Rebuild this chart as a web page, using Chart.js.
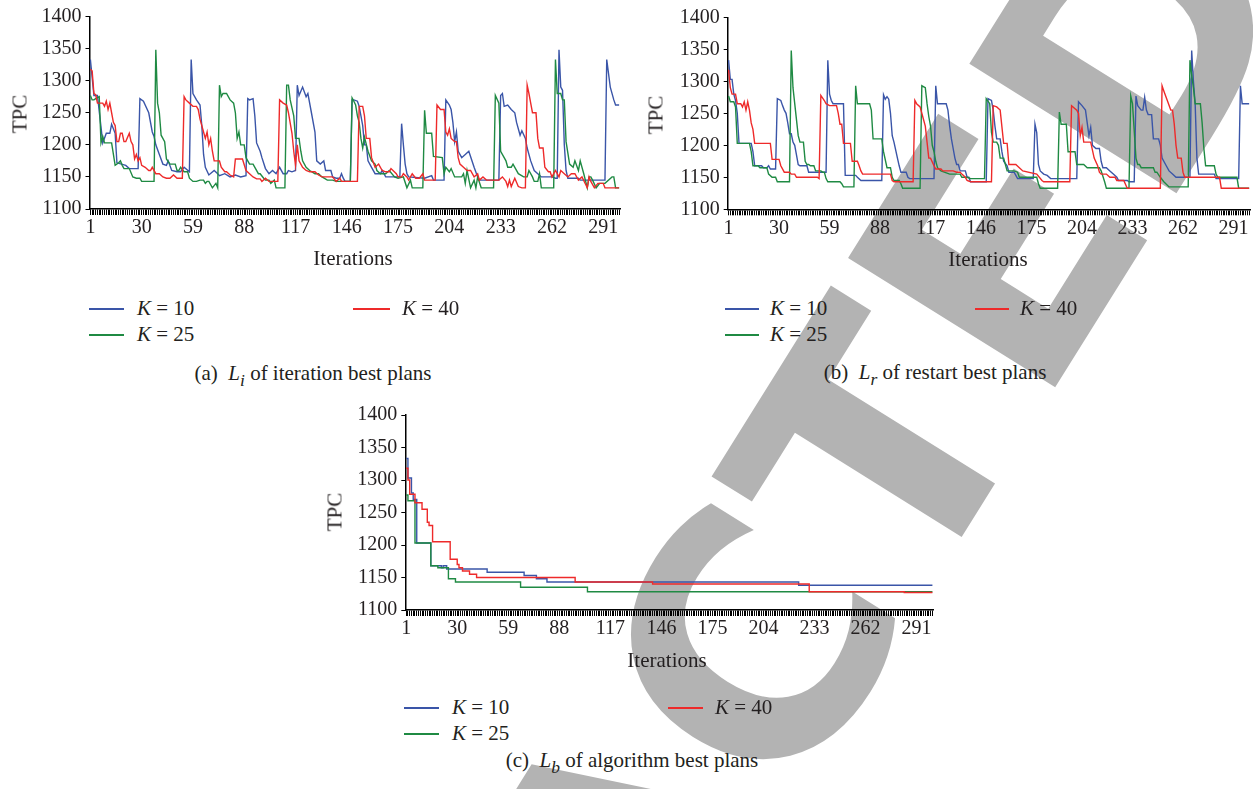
<!DOCTYPE html>
<html lang="en">
<head>
<meta charset="UTF-8">
<title>TPC over iterations</title>
<script src="https://cdn.jsdelivr.net/npm/chart.js"></script>
<style>
  html, body { margin: 0; padding: 0; background: #fff; }
  #page { position: relative; width: 1253px; height: 789px; overflow: hidden;
          font-family: 'Liberation Serif', serif; color: #231f20; }
  #watermark { position: absolute; left: 623px; top: 861px; z-index: 0;
               font-family: 'DejaVu Sans', sans-serif; font-weight: bold; font-size: 335px;
               color: #b3b3b3; white-space: nowrap; line-height: 1;
               transform: translate(-50%, -50%) rotate(-58deg); }
  canvas { position: absolute; z-index: 1; }
  .t { position: absolute; white-space: nowrap; z-index: 2; }
  .c { transform: translate(-50%, -50%); }
  .l { transform: translateY(-50%); }
  .axis { font-size: 21px; }
  .ytitle { transform: translate(-50%, -50%) rotate(-90deg); }
  .leg { font-size: 21px; }
  .cap { font-size: 21px; }
  .sw { position: absolute; height: 1.5px; z-index: 2; }
</style>
</head>
<body>
<div id="page">
  <div id="watermark">RETRACTED</div>

  <!-- (a) iteration best -->
  <canvas id="chartA" width="640" height="250" style="left:0px; top:0px;"></canvas>
  <div class="t axis ytitle" style="left:20px; top:114px;">TPC</div>
  <div class="t axis c" style="left:353px; top:258px;">Iterations</div>
  <div class="sw" style="left:89px; top:308px; width:35px; background:#3a55a8;"></div>
  <div class="t leg l" style="left:137px; top:308px;"><i>K</i> = 10</div>
  <div class="sw" style="left:89px; top:334px; width:35px; background:#1f8a43;"></div>
  <div class="t leg l" style="left:137px; top:334px;"><i>K</i> = 25</div>
  <div class="sw" style="left:353px; top:308px; width:37px; background:#ee2a2a;"></div>
  <div class="t leg l" style="left:402px; top:308px;"><i>K</i> = 40</div>
  <div class="t cap c" style="left:313px; top:376px;">(a)&nbsp; <i>L<sub>i</sub></i> of iteration best plans</div>

  <!-- (b) restart best -->
  <canvas id="chartB" width="613" height="250" style="left:640px; top:0px;"></canvas>
  <div class="t axis ytitle" style="left:656px; top:115px;">TPC</div>
  <div class="t axis c" style="left:988px; top:259px;">Iterations</div>
  <div class="sw" style="left:725px; top:308px; width:34px; background:#3a55a8;"></div>
  <div class="t leg l" style="left:770px; top:308px;"><i>K</i> = 10</div>
  <div class="sw" style="left:725px; top:334px; width:34px; background:#1f8a43;"></div>
  <div class="t leg l" style="left:770px; top:334px;"><i>K</i> = 25</div>
  <div class="sw" style="left:975px; top:308px; width:34px; background:#ee2a2a;"></div>
  <div class="t leg l" style="left:1020px; top:308px;"><i>K</i> = 40</div>
  <div class="t cap c" style="left:935px; top:375px;">(b)&nbsp; <i>L<sub>r</sub></i> of restart best plans</div>

  <!-- (c) algorithm best -->
  <canvas id="chartC" width="640" height="260" style="left:320px; top:395px;"></canvas>
  <div class="t axis ytitle" style="left:335px; top:512px;">TPC</div>
  <div class="t axis c" style="left:667px; top:660px;">Iterations</div>
  <div class="sw" style="left:404px; top:707px; width:35px; background:#3a55a8;"></div>
  <div class="t leg l" style="left:452px; top:707px;"><i>K</i> = 10</div>
  <div class="sw" style="left:404px; top:733px; width:35px; background:#1f8a43;"></div>
  <div class="t leg l" style="left:452px; top:733px;"><i>K</i> = 25</div>
  <div class="sw" style="left:668px; top:707px; width:35px; background:#ee2a2a;"></div>
  <div class="t leg l" style="left:715px; top:707px;"><i>K</i> = 40</div>
  <div class="t cap c" style="left:632px; top:763px;">(c)&nbsp; <i>L<sub>b</sub></i> of algorithm best plans</div>
</div>

<script>
// axis setup
const ITERATIONS = 300;
const LABEL_STEP = 29;      // labels at 1, 30, 59, ...
const Y_MIN = 1100, Y_MAX = 1400, Y_STEP = 50;
const seriesNames = ['K = 10', 'K = 25', 'K = 40'];
const seriesColors = ['#3a55a8', '#1f8a43', '#ee2a2a'];

// (a) iteration best plans: iteration -> TPC
const aBlueX = [1,3,5,8,10,12,13,15,16,21,23,28,29,31,34,36,37,38,40,42,44,45,47,50,52,54,57,58,59,61,63,64,65,66,68,71,73,74,77,80,83,86,89,90,91,93,94,95,97,98,100,102,104,106,108,110,112,113,115,117,118,119,121,123,124,126,128,129,131,133,134,137,138,140,142,143,144,145,148,149,150,152,153,154,155,156,157,158,160,162,165,166,168,176,177,178,179,180,181,190,194,195,201,202,204,205,206,207,208,209,211,213,215,218,220,221,232,233,234,235,237,239,241,242,244,245,247,248,250,252,254,256,262,264,265,266,267,268,269,270,271,277,278,292,293,295,297,298,300];
const aBlueY = [1333,1277,1277,1203,1218,1218,1232,1218,1172,1168,1163,1163,1272,1268,1250,1220,1213,1200,1185,1170,1168,1175,1160,1158,1158,1165,1158,1333,1280,1270,1262,1230,1185,1165,1153,1160,1155,1152,1155,1150,1153,1150,1152,1272,1270,1272,1245,1203,1190,1180,1163,1155,1160,1155,1165,1155,1155,1160,1158,1160,1293,1277,1290,1275,1280,1250,1220,1175,1170,1175,1160,1160,1150,1148,1148,1155,1148,1143,1143,1270,1270,1268,1260,1245,1230,1200,1200,1175,1165,1155,1155,1160,1150,1150,1233,1200,1170,1155,1150,1148,1152,1145,1145,1270,1262,1255,1235,1205,1220,1190,1180,1185,1190,1165,1150,1145,1145,1277,1280,1260,1262,1255,1250,1235,1215,1222,1210,1195,1175,1160,1155,1150,1150,1148,1148,1348,1290,1285,1200,1160,1148,1148,1145,1145,1333,1290,1270,1262,1262];
const aGreenX = [1,2,3,4,6,7,8,9,13,15,17,18,19,20,23,25,27,29,30,37,38,39,40,41,43,44,46,49,50,51,52,54,56,57,59,61,63,65,66,67,68,70,72,73,74,75,76,78,80,82,83,84,85,86,88,89,91,93,94,96,97,99,100,102,103,105,106,111,112,113,114,116,117,119,120,121,123,125,128,130,132,135,138,140,148,149,150,151,152,153,154,155,156,158,160,162,163,165,168,170,173,175,178,180,182,183,189,190,191,194,195,200,201,202,204,205,207,211,212,213,214,216,218,219,220,222,229,230,232,233,235,236,237,239,240,243,246,248,249,251,252,254,255,256,263,264,265,267,268,269,270,272,274,275,277,278,280,282,283,284,285,287,289,292,296,297,298,300];
const aGreenY = [1277,1270,1270,1272,1275,1203,1213,1203,1203,1168,1172,1175,1168,1163,1163,1150,1148,1148,1143,1143,1348,1265,1250,1215,1205,1178,1170,1170,1160,1160,1165,1158,1158,1148,1143,1143,1145,1145,1140,1143,1143,1133,1140,1133,1293,1275,1280,1280,1270,1265,1250,1210,1220,1200,1200,1180,1170,1170,1165,1155,1155,1148,1145,1145,1140,1145,1133,1133,1293,1293,1270,1245,1210,1210,1190,1175,1165,1160,1155,1155,1150,1145,1145,1143,1143,1273,1268,1262,1245,1235,1210,1195,1212,1190,1175,1170,1160,1155,1155,1160,1150,1148,1150,1133,1145,1133,1133,1254,1218,1218,1182,1180,1155,1165,1158,1163,1150,1150,1155,1140,1160,1133,1145,1133,1150,1133,1133,1277,1265,1190,1180,1175,1165,1165,1170,1155,1150,1150,1160,1150,1143,1143,1155,1133,1133,1333,1280,1280,1270,1270,1205,1170,1165,1175,1160,1175,1155,1133,1150,1150,1145,1133,1140,1140,1150,1150,1133,1133];
const aRedX = [1,2,3,4,5,8,9,10,11,12,13,14,15,16,17,18,19,20,21,23,24,25,26,27,28,29,30,32,34,35,36,38,40,42,44,46,48,50,53,54,55,57,59,61,62,63,65,66,67,68,69,70,71,74,75,77,78,80,82,83,87,89,91,93,95,97,98,100,102,107,108,110,112,113,115,116,117,118,119,121,123,125,128,130,132,138,140,142,143,152,153,155,156,157,159,160,162,164,166,168,170,171,174,175,177,178,180,181,183,185,187,189,190,196,197,199,201,202,203,204,205,207,208,209,210,212,214,216,218,220,221,223,225,232,234,236,237,238,239,241,243,245,247,248,249,250,251,253,254,255,257,258,260,261,262,264,266,267,269,271,273,275,277,279,282,283,284,286,288,291,292,300];
const aRedY = [1318,1315,1280,1278,1265,1265,1260,1268,1255,1265,1250,1235,1230,1205,1205,1218,1218,1205,1205,1218,1205,1200,1178,1185,1175,1180,1168,1165,1160,1160,1165,1155,1155,1150,1148,1148,1153,1148,1148,1275,1270,1265,1260,1260,1255,1240,1220,1210,1220,1200,1210,1190,1175,1175,1165,1158,1158,1153,1150,1178,1178,1160,1155,1150,1147,1147,1143,1148,1143,1143,1270,1265,1262,1250,1218,1190,1168,1200,1175,1165,1160,1158,1158,1153,1150,1150,1143,1148,1143,1143,1260,1260,1245,1210,1210,1180,1165,1170,1160,1158,1158,1163,1155,1150,1150,1155,1150,1145,1155,1148,1148,1155,1145,1145,1262,1255,1255,1220,1215,1225,1210,1205,1205,1180,1170,1165,1160,1160,1150,1155,1145,1150,1145,1145,1150,1143,1135,1145,1135,1148,1135,1133,1133,1293,1280,1265,1250,1250,1210,1195,1195,1165,1158,1158,1150,1160,1150,1160,1155,1150,1155,1155,1145,1150,1133,1150,1143,1133,1140,1140,1133,1133];

// (b) restart best plans
const bBlueX = [1,2,3,4,5,6,7,14,15,16,20,21,23,24,25,28,29,31,32,33,34,35,36,37,38,39,40,41,42,46,47,57,58,59,60,61,67,68,74,75,77,89,90,91,92,93,94,95,96,98,99,100,103,104,105,119,120,121,126,127,128,129,130,131,132,133,134,137,138,139,140,149,150,152,153,154,155,157,158,159,161,162,165,166,167,176,177,178,179,180,182,184,186,201,202,204,206,207,208,209,210,212,214,215,216,218,220,222,224,225,230,231,234,235,236,238,239,240,241,242,244,245,248,249,250,252,254,256,258,266,267,268,269,270,271,280,281,294,295,296,300];
const bBlueY = [1333,1303,1303,1280,1270,1250,1203,1203,1190,1168,1168,1165,1165,1168,1163,1163,1273,1270,1262,1255,1250,1235,1218,1218,1205,1200,1185,1170,1168,1168,1158,1158,1333,1280,1270,1265,1265,1153,1153,1150,1145,1145,1279,1272,1276,1272,1250,1215,1205,1180,1168,1158,1158,1150,1148,1148,1293,1265,1265,1255,1230,1210,1195,1180,1170,1170,1160,1160,1150,1150,1143,1143,1273,1270,1255,1230,1210,1210,1190,1175,1168,1158,1158,1153,1148,1148,1233,1220,1170,1160,1155,1153,1148,1148,1268,1262,1255,1235,1215,1228,1200,1195,1195,1175,1165,1165,1160,1155,1150,1145,1145,1143,1143,1277,1262,1255,1255,1275,1255,1248,1248,1210,1210,1200,1180,1170,1160,1155,1150,1150,1348,1300,1265,1180,1155,1155,1148,1148,1293,1265,1265];
const bGreenX = [1,2,4,5,6,13,14,15,18,19,23,24,26,28,29,36,37,38,40,41,42,44,45,46,47,48,50,51,54,55,56,57,58,65,66,67,73,74,75,82,83,84,89,90,92,94,95,96,99,100,101,111,112,114,115,116,117,118,119,120,121,123,128,134,135,138,140,148,149,151,152,153,155,156,157,159,160,161,165,167,168,178,179,180,190,191,192,195,196,200,201,205,207,214,215,217,218,231,232,233,235,236,237,238,245,246,247,249,251,254,265,266,267,268,269,272,273,274,275,280,281,282,293,294,300];
const bGreenY = [1277,1268,1268,1260,1203,1203,1190,1168,1168,1165,1165,1155,1150,1150,1143,1143,1348,1290,1240,1215,1205,1205,1175,1170,1170,1168,1168,1160,1160,1158,1158,1148,1143,1143,1140,1135,1135,1293,1265,1265,1255,1210,1210,1190,1165,1165,1150,1145,1145,1140,1133,1133,1293,1290,1265,1245,1230,1200,1190,1175,1165,1160,1155,1155,1150,1150,1148,1148,1273,1265,1220,1205,1205,1200,1180,1180,1170,1160,1160,1158,1150,1150,1140,1133,1133,1252,1233,1233,1190,1190,1170,1170,1165,1165,1160,1143,1133,1133,1277,1265,1180,1170,1170,1165,1165,1158,1158,1150,1143,1135,1135,1333,1310,1290,1265,1265,1235,1195,1168,1168,1155,1150,1150,1133,1133];
const bRedX = [1,2,3,5,6,8,9,10,11,12,13,14,15,16,25,26,30,31,33,36,37,39,40,52,53,54,56,57,59,63,64,65,66,67,71,72,75,76,77,78,94,95,96,107,108,109,111,112,114,115,116,117,119,120,123,124,130,132,134,135,137,138,140,152,153,155,157,159,161,162,166,168,170,178,181,182,197,198,201,202,203,204,205,209,211,213,214,215,218,220,223,224,228,230,249,250,251,253,255,256,257,258,259,261,262,263,283,284,300];
const bRedY = [1318,1290,1280,1280,1265,1265,1260,1268,1255,1268,1255,1235,1225,1203,1203,1178,1178,1168,1158,1158,1155,1155,1150,1150,1148,1278,1270,1265,1262,1262,1250,1233,1233,1203,1203,1175,1175,1168,1160,1155,1155,1145,1143,1143,1270,1265,1260,1250,1230,1205,1180,1180,1168,1163,1163,1160,1160,1158,1158,1155,1150,1145,1143,1143,1262,1260,1255,1203,1203,1170,1170,1165,1160,1155,1145,1143,1143,1262,1255,1250,1215,1228,1205,1205,1180,1168,1158,1155,1155,1150,1150,1145,1145,1133,1133,1293,1285,1270,1255,1255,1233,1200,1180,1180,1158,1150,1150,1133,1133];

// (c) algorithm best plans: iteration where the value changes -> new value
const cBlueX = [1,2,4,5,7,15,21,22,24,47,68,75,81,224,300];
const cBlueY = [1333,1303,1280,1270,1203,1168,1165,1168,1163,1158,1153,1148,1143,1138,1138];
const cGreenX = [1,2,6,15,19,25,29,66,104,300];
const cGreenY = [1277,1268,1203,1168,1165,1148,1143,1135,1128,1128];
const cRedX = [1,2,3,6,10,13,14,16,26,30,31,33,37,41,97,141,230,284,300];
const cRedY = [1318,1300,1278,1265,1255,1235,1230,1205,1178,1170,1165,1160,1155,1150,1143,1140,1128,1127,1127];

Chart.defaults.font.family = "'Liberation Serif', serif";
Chart.defaults.font.size = 20;
Chart.defaults.color = '#231f20';

function points(xs, ys) {
    return xs.map((x, k) => ({ x: x, y: ys[k] }));
}

// one panel: same axes for all three
function makeChart(id, series, box, stepped) {
    return new Chart(document.getElementById(id), {
        type: 'line',
        data: {
            datasets: series.map((s, k) => ({
                label: seriesNames[k],
                data: points(s[0], s[1]),
                borderColor: seriesColors[k],
                borderWidth: 1.4,
                pointRadius: 0,
                tension: 0,
                fill: false,
                stepped: stepped ? 'before' : false,
                order: 2 - k
            }))
        },
        options: {
            responsive: false,
            animation: false,
            events: [],
            layout: { padding: box.padding },
            plugins: { legend: { display: false }, tooltip: { enabled: false } },
            scales: {
                x: {
                    type: 'linear',
                    min: 0.5,
                    max: ITERATIONS + 0.5,
                    afterBuildTicks: (sc) => {
                        sc.ticks = [];
                        for (let i = 1; i <= ITERATIONS; i++) sc.ticks.push({ value: i });
                    },
                    afterFit: (sc) => { sc.height = 30; },
                    ticks: {
                        autoSkip: false, maxRotation: 0, minRotation: 0, padding: 1,
                        callback: (v) => ((v - 1) % LABEL_STEP === 0 ? String(v) : '')
                    },
                    grid: { drawOnChartArea: false, drawTicks: true, tickLength: 6, color: '#000', lineWidth: 1 },
                    border: { display: true, color: '#000', width: 1.5 }
                },
                y: {
                    min: Y_MIN,
                    max: Y_MAX,
                    afterFit: (sc) => { sc.width = box.yWidth; },
                    ticks: { stepSize: Y_STEP, padding: 4, callback: (v) => String(v) },
                    grid: { drawOnChartArea: false, tickLength: 4, color: '#000' },
                    border: { display: true, color: '#000', width: 1.5 }
                }
            }
        }
    });
}

makeChart('chartA', [[aBlueX, aBlueY], [aGreenX, aGreenY], [aRedX, aRedY]],
    { yWidth: 89.5, padding: { left: 0, right: 20, top: 16.5, bottom: 11 } }, false);
makeChart('chartB', [[bBlueX, bBlueY], [bGreenX, bGreenY], [bRedX, bRedY]],
    { yWidth: 87.7, padding: { left: 0, right: 3, top: 17.3, bottom: 10.7 } }, false);
makeChart('chartC', [[cBlueX, cBlueY], [cGreenX, cGreenY], [cRedX, cRedY]],
    { yWidth: 85.3, padding: { left: 0, right: 26.7, top: 20, bottom: 15 } }, true);
</script>
</body>
</html>
